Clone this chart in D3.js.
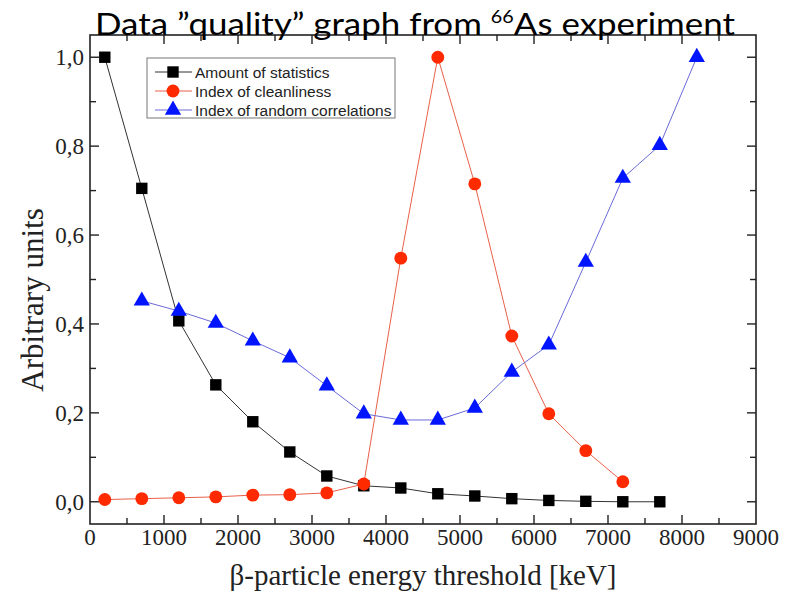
<!DOCTYPE html>
<html><head><meta charset="utf-8">
<script src="https://cdn.jsdelivr.net/npm/d3@7"></script>
<style>body{margin:0;background:#fff}svg{display:block}</style>
</head><body>
<svg id="c" width="797" height="597"></svg>
<script>
const xStats = [200,700,1200,1700,2200,2700,3200,3700,4200,4700,5200,5700,6200,6700,7200,7700];
const amountOfStatistics = [1.0,0.705,0.407,0.263,0.18,0.112,0.058,0.036,0.031,0.018,0.013,0.007,0.003,0.001,0.0,0.0];
const xClean = [200,700,1200,1700,2200,2700,3200,3700,4200,4700,5200,5700,6200,6700,7200];
const indexOfCleanliness = [0.005,0.007,0.009,0.011,0.015,0.016,0.02,0.04,0.548,1.0,0.715,0.373,0.198,0.115,0.045];
const xRandom = [700,1200,1700,2200,2700,3200,3700,4200,4700,5200,5700,6200,6700,7200,7700,8200];
const indexOfRandomCorrelations = [0.452,0.429,0.402,0.362,0.324,0.261,0.198,0.184,0.184,0.211,0.292,0.353,0.539,0.728,0.802,1.0];
const xTicks = [0,1000,2000,3000,4000,5000,6000,7000,8000,9000];
const yTicks = [0,0.2,0.4,0.6,0.8,1.0];
const yTickLabels = ["0,0","0,2","0,4","0,6","0,8","1,0"];
const seriesNames = ["Amount of statistics","Index of cleanliness","Index of random correlations"];

const svg = d3.select("#c");
const L=90, R=756, T=35, B=524;
const x = d3.scaleLinear().domain([0,9000]).range([L,R]);
const y = d3.scaleLinear().domain([-0.05,1.05]).range([B,T]);

const g = svg.append("g");
g.append("rect").attr("x",L).attr("y",T).attr("width",R-L).attr("height",B-T)
 .attr("fill","none").attr("stroke","#222").attr("stroke-width",1.6);

const xMinor = d3.range(500,9000,1000);
const yMinor = [0.1,0.3,0.5,0.7,0.9];
function ticks(vals, len){
  vals.forEach(v=>{
    g.append("line").attr("x1",x(v)).attr("x2",x(v)).attr("y1",B).attr("y2",B-len).attr("stroke","#222").attr("stroke-width",1.4);
    g.append("line").attr("x1",x(v)).attr("x2",x(v)).attr("y1",T).attr("y2",T+len).attr("stroke","#222").attr("stroke-width",1.4);
  });
}
ticks(xTicks.slice(1,-1),9); ticks(xMinor,6);
function yt(vals,len){
  vals.forEach(v=>{
    g.append("line").attr("y1",y(v)).attr("y2",y(v)).attr("x1",L).attr("x2",L+len).attr("stroke","#222").attr("stroke-width",1.4);
    g.append("line").attr("y1",y(v)).attr("y2",y(v)).attr("x1",R).attr("x2",R-len).attr("stroke","#222").attr("stroke-width",1.4);
  });
}
yt(yTicks,9); yt(yMinor,6);

g.selectAll(".xl").data(xTicks).enter().append("text")
 .attr("x",d=>x(d)).attr("y",B+21).attr("text-anchor","middle")
 .attr("font-family","Liberation Serif").attr("font-size",23).attr("fill","#222").text(d=>d);
g.selectAll(".yl").data(yTicks).enter().append("text")
 .attr("x",L-6).attr("y",(d)=>y(d)+8).attr("text-anchor","end")
 .attr("font-family","Liberation Serif").attr("font-size",23).attr("fill","#222").text((d,i)=>yTickLabels[i]);

svg.append("text").attr("x",423).attr("y",585).attr("text-anchor","middle")
 .attr("font-family","Liberation Serif").attr("font-size",29).attr("fill","#222")
 .text("β-particle energy threshold [keV]");
svg.append("text").attr("transform","translate(43,300) rotate(-90)").attr("text-anchor","middle")
 .attr("font-family","Liberation Serif").attr("font-size",31).attr("fill","#222")
 .text("Arbitrary units");

const line = d3.line().x(d=>x(d[0])).y(d=>y(d[1]));
const sStats = xStats.map((v,i)=>[v,amountOfStatistics[i]]);
const sClean = xClean.map((v,i)=>[v,indexOfCleanliness[i]]);
const sRand = xRandom.map((v,i)=>[v,indexOfRandomCorrelations[i]]);

svg.append("path").datum(sStats).attr("d",line).attr("fill","none").attr("stroke","#333").attr("stroke-width",1);
svg.append("path").datum(sClean).attr("d",line).attr("fill","none").attr("stroke","#e8604a").attr("stroke-width",1);
svg.append("path").datum(sRand).attr("d",line).attr("fill","none").attr("stroke","#6a6ad8").attr("stroke-width",1);

const sq = d3.symbol().type(d3.symbolSquare).size(130);
const ci = d3.symbol().type(d3.symbolCircle).size(130);
const tr = d3.symbol().type(d3.symbolTriangle).size(115);

svg.selectAll(".ps").data(sStats).enter().append("path").attr("d",sq)
 .attr("transform",d=>`translate(${x(d[0])},${y(d[1])})`).attr("fill","#000");
svg.selectAll(".pc").data(sClean).enter().append("path").attr("d",ci)
 .attr("transform",d=>`translate(${x(d[0])},${y(d[1])})`).attr("fill","#ff2a00");
svg.selectAll(".pt").data(sRand).enter().append("path").attr("d",tr)
 .attr("transform",d=>`translate(${x(d[0])},${y(d[1])})`).attr("fill","#0014ff");

const lg = svg.append("g");
lg.append("rect").attr("x",147).attr("y",58).attr("width",248).attr("height",60)
 .attr("fill","#fff").attr("stroke","#777").attr("stroke-width",1);
const lcol = ["#333","#e8604a","#6a6ad8"], mcol=["#000","#ff2a00","#0014ff"], msym=[sq,ci,tr];
seriesNames.forEach((n,i)=>{
  const yy = 72 + i*19;
  lg.append("line").attr("x1",155).attr("x2",192).attr("y1",yy).attr("y2",yy).attr("stroke",lcol[i]).attr("stroke-width",1);
  lg.append("path").attr("d",msym[i]).attr("transform",`translate(173,${yy})`).attr("fill",mcol[i]);
  lg.append("text").attr("x",195).attr("y",yy+5.5).attr("font-family","Liberation Sans").attr("font-size",15.5).attr("fill","#222").text(n);
});

const tt = svg.append("text").attr("x",95).attr("y",35).attr("font-family","Lato").attr("font-size",30)
 .attr("fill","#000").attr("textLength",640).attr("lengthAdjust","spacingAndGlyphs");
tt.append("tspan").text("Data ”quality” graph from ");
tt.append("tspan").attr("font-size",17).attr("dy",-12).text("66");
tt.append("tspan").attr("dy",12).text("As experiment");
</script>
</body></html>
